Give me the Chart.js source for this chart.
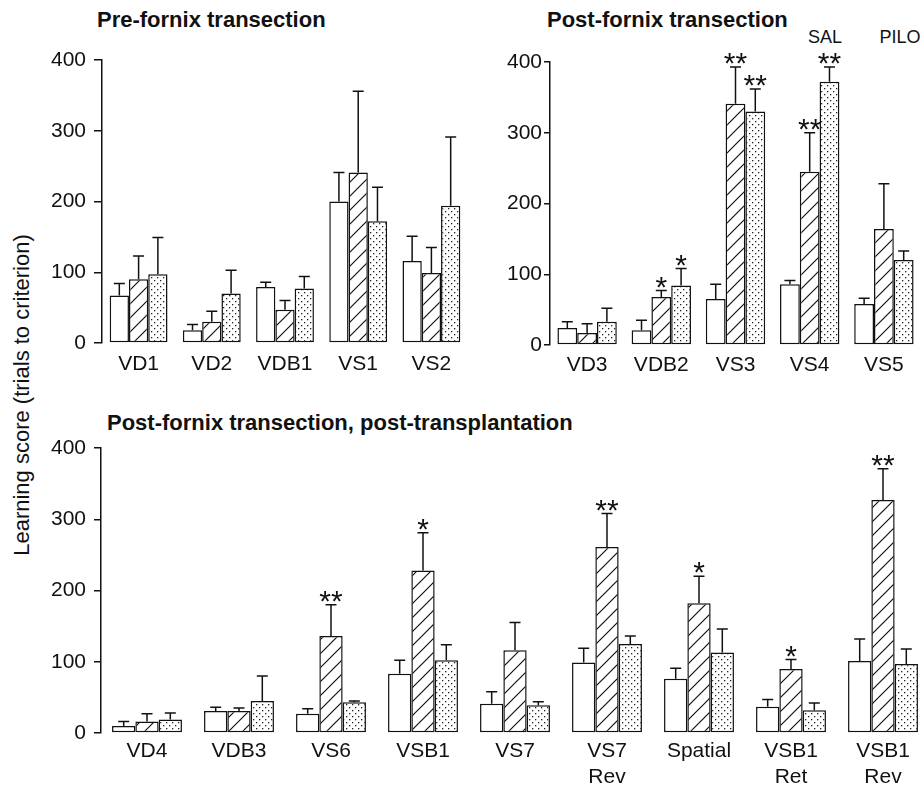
<!DOCTYPE html>
<html>
<head>
<meta charset="utf-8">
<script src="https://cdn.jsdelivr.net/npm/chart.js@4.4.1/dist/chart.umd.min.js"></script>
<style>
  html, body { margin: 0; padding: 0; background: #fff; overflow: hidden; width: 922px; height: 790px; }
  body { position: relative; font-family: "Liberation Sans", Arial, Helvetica, sans-serif; color: #111; }
  canvas { position: absolute; }
  .title { position: absolute; font-weight: bold; font-size: 22px; line-height: 1; white-space: nowrap; }
  .note { position: absolute; font-size: 18px; line-height: 1; white-space: nowrap; transform: translateX(-50%); }
  #yTitle { position: absolute; left: 22px; top: 395px; font-size: 22px; line-height: 1; white-space: nowrap;
            transform: translate(-50%, -50%) rotate(-90deg); }
</style>
</head>
<body>
<div class="title" style="left:97px; top:9px;">Pre-fornix transection</div>
<div class="title" style="left:547px; top:9px;">Post-fornix transection</div>
<div class="title" style="left:107px; top:412px;">Post-fornix transection, post-transplantation</div>
<div class="note" style="left:825px; top:28px;">SAL</div>
<div class="note" style="left:900px; top:28px;">PILO</div>
<div id="yTitle">Learning score (trials to criterion)</div>

<canvas id="pre" width="470" height="400" style="left:0; top:0;"></canvas>
<canvas id="post" width="462" height="400" style="left:460px; top:0;"></canvas>
<canvas id="trans" width="936" height="390" style="left:0; top:400px;"></canvas>

<script>
const FONT = '"Liberation Sans", Arial, Helvetica, sans-serif';
const INK = '#111';

// Pre-fornix transection
const preCats = ['VD1', 'VD2', 'VDB1', 'VS1', 'VS2'];
const preOpen = [67, 18, 79, 200, 116];
const preOpenErr = [17, 8, 7, 41, 35];
const preHatch = [90, 30, 47, 241, 99];
const preHatchErr = [33, 15, 13, 115, 36];
const preDots = [97, 70, 77, 172, 194];
const preDotsErr = [52, 33, 17, 48, 97];

// Post-fornix transection
const postCats = ['VD3', 'VDB2', 'VS3', 'VS4', 'VS5'];
const postOpen = [24, 21, 65, 86, 58];
const postOpenErr = [9, 14, 21, 5, 8];
const postHatch = [17, 68, 341, 245, 164];
const postHatchErr = [13, 9, 52, 55, 64];
const postDots = [33, 84, 330, 372, 120];
const postDotsErr = [19, 24, 32, 21, 13];
const postHatchStars = ['', '*', '**', '**', ''];
const postDotsStars = ['', '*', '**', '**', ''];

// Post-fornix transection, post-transplantation
const transCats = ['VD4', 'VDB3', 'VS6', 'VSB1', 'VS7', ['VS7', 'Rev'], 'Spatial', ['VSB1', 'Ret'], ['VSB1', 'Rev']];
const transOpen = [10, 31, 27, 83, 41, 99, 76, 37, 101];
const transOpenErr = [6, 5, 7, 19, 17, 20, 15, 10, 31];
const transHatch = [16, 31, 136, 228, 116, 261, 182, 90, 327];
const transHatchErr = [11, 4, 44, 53, 39, 47, 38, 13, 44];
const transDots = [19, 45, 43, 102, 39, 125, 113, 32, 97];
const transDotsErr = [9, 35, 2, 22, 5, 11, 33, 10, 21];
const transHatchStars = ['', '', '**', '*', '', '**', '*', '*', '**'];

const yTicks = [0, 100, 200, 300, 400];

function hatchPattern() {
  const c = document.createElement('canvas');
  c.width = 14; c.height = 14;
  const g = c.getContext('2d');
  g.fillStyle = '#fff';
  g.fillRect(0, 0, 14, 14);
  g.strokeStyle = INK;
  g.lineWidth = 1.2;
  g.beginPath();
  g.moveTo(0, 14); g.lineTo(14, 0);
  g.moveTo(-2, 2); g.lineTo(2, -2);
  g.moveTo(12, 16); g.lineTo(16, 12);
  g.stroke();
  return g.createPattern(c, 'repeat');
}

function dotPattern() {
  const c = document.createElement('canvas');
  c.width = 6; c.height = 6;
  const g = c.getContext('2d');
  g.fillStyle = '#fff';
  g.fillRect(0, 0, 6, 6);
  g.fillStyle = '#222';
  g.fillRect(1, 1, 1.3, 1.3);
  g.fillRect(4, 4, 1.3, 1.3);
  return g.createPattern(c, 'repeat');
}

const HATCH = hatchPattern();
const DOTS = dotPattern();

// upper error bars + significance stars
const errorBars = {
  id: 'errorBars',
  afterDatasetsDraw(chart) {
    const ctx = chart.ctx;
    const y = chart.scales.y;
    ctx.save();
    ctx.strokeStyle = INK;
    ctx.fillStyle = INK;
    ctx.lineWidth = 1.5;
    chart.data.datasets.forEach((ds, i) => {
      chart.getDatasetMeta(i).data.forEach((bar, j) => {
        const top = y.getPixelForValue(ds.data[j] + ds.errors[j]);
        ctx.beginPath();
        ctx.moveTo(bar.x, bar.y);
        ctx.lineTo(bar.x, top);
        ctx.moveTo(bar.x - 5.5, top);
        ctx.lineTo(bar.x + 5.5, top);
        ctx.stroke();
        const s = ds.stars ? ds.stars[j] : '';
        if (s) {
          ctx.font = '30px ' + FONT;
          ctx.textAlign = 'center';
          ctx.textBaseline = 'alphabetic';
          ctx.fillText(s, bar.x, top + 6);
        }
      });
    });
    ctx.restore();
  }
};

function panel(id, cats, sets, box) {
  const fills = ['#fff', HATCH, DOTS];
  return new Chart(document.getElementById(id), {
    type: 'bar',
    data: {
      labels: cats,
      datasets: sets.map((s, i) => ({
        data: s.values,
        errors: s.errors,
        stars: s.stars,
        backgroundColor: fills[i],
        borderColor: INK,
        borderWidth: 1.5,
        borderSkipped: false,
        categoryPercentage: box.cat,
        barPercentage: 1.0
      }))
    },
    options: {
      responsive: false,
      animation: false,
      devicePixelRatio: 1,
      layout: { padding: { top: box.top, right: box.right, left: 0, bottom: 0 } },
      plugins: { legend: { display: false }, tooltip: { enabled: false } },
      scales: {
        x: {
          grid: { display: false, drawTicks: false },
          border: { display: false },
          ticks: { color: INK, font: { size: 21, family: FONT }, padding: box.xpad, maxRotation: 0, autoSkip: false },
          afterFit: s => { s.height = box.xh; }
        },
        y: {
          min: 0,
          max: 400,
          afterBuildTicks: s => { s.ticks = yTicks.map(v => ({ value: v })); },
          ticks: { color: INK, font: { size: 21, family: FONT }, padding: box.ypad },
          grid: { drawOnChartArea: false, drawTicks: true, tickLength: box.tick, color: INK, lineWidth: 1.5 },
          border: { display: true, color: INK, width: 1.5 },
          afterFit: s => { s.width = box.yw; }
        }
      }
    },
    plugins: [errorBars]
  });
}

panel('pre', preCats, [
  { values: preOpen, errors: preOpenErr },
  { values: preHatch, errors: preHatchErr },
  { values: preDots, errors: preDotsErr }
], { top: 60, right: 2, yw: 102, xh: 57, cat: 0.79, xpad: 9, ypad: 8, tick: 8 });

panel('post', postCats, [
  { values: postOpen, errors: postOpenErr },
  { values: postHatch, errors: postHatchErr, stars: postHatchStars },
  { values: postDots, errors: postDotsErr, stars: postDotsStars }
], { top: 62, right: 1, yw: 90, xh: 55, cat: 0.8, xpad: 8, ypad: 2, tick: 6 });

panel('trans', transCats, [
  { values: transOpen, errors: transOpenErr },
  { values: transHatch, errors: transHatchErr, stars: transHatchStars },
  { values: transDots, errors: transDotsErr }
], { top: 48, right: 7, yw: 101, xh: 57, cat: 0.76, xpad: 6, ypad: 8, tick: 7 });
</script>
</body>
</html>
